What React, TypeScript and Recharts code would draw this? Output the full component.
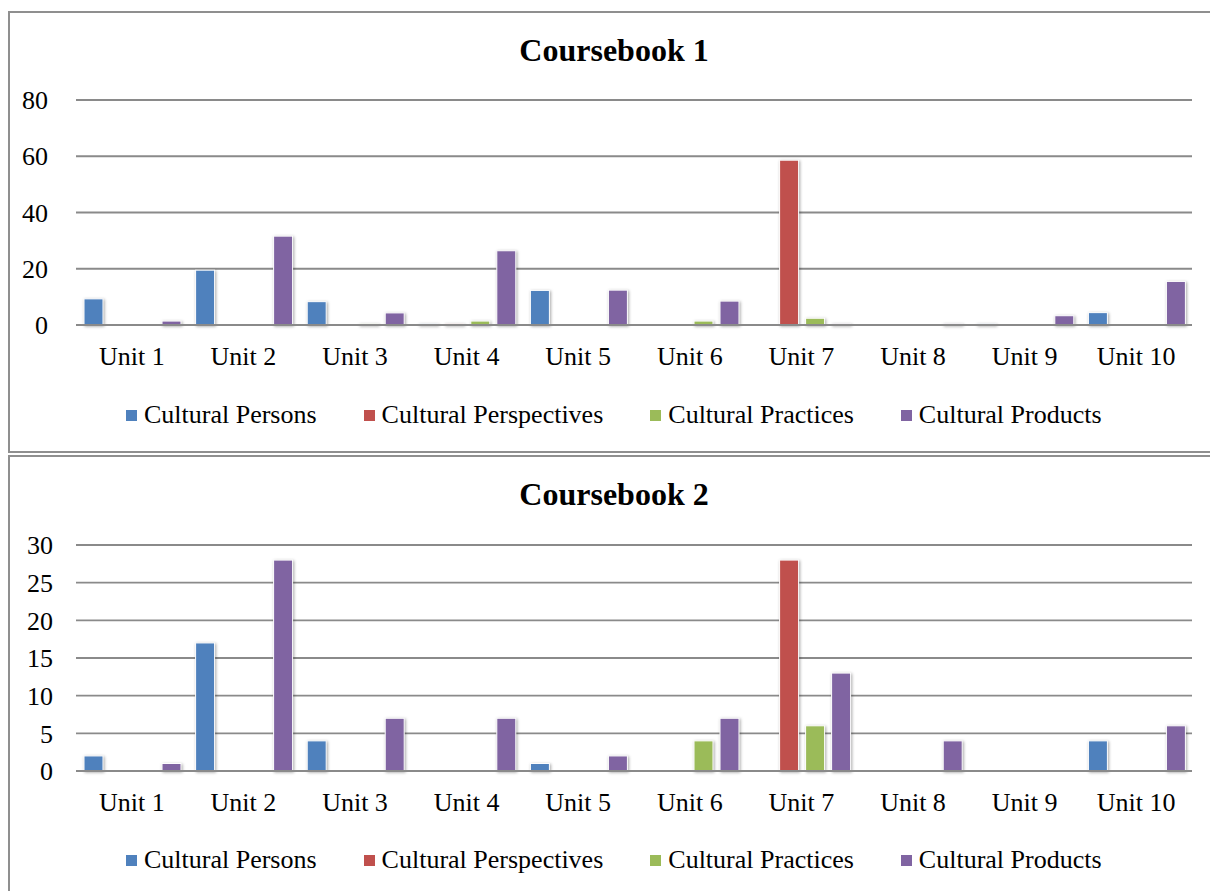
import React from 'react';
import { BarChart, Bar, XAxis, YAxis, CartesianGrid, Legend } from 'recharts';

const units = ['Unit 1', 'Unit 2', 'Unit 3', 'Unit 4', 'Unit 5', 'Unit 6', 'Unit 7', 'Unit 8', 'Unit 9', 'Unit 10'];
const seriesNames = ['Cultural Persons', 'Cultural Perspectives', 'Cultural Practices', 'Cultural Products'];
const seriesColors = ['#4F81BD', '#C0504D', '#9BBB59', '#8064A2'];

// Coursebook 1
const book1Persons = [9.3, 19.5, 8.3, 0.4, 12.3, 0, 0, 0, 0.4, 4.4];
const book1Perspectives = [0, 0, 0, 0.4, 0, 0, 58.6, 0, 0, 0];
const book1Practices = [0, 0, 0.4, 1.4, 0, 1.4, 2.4, 0, 0, 0];
const book1Products = [1.4, 31.6, 4.3, 26.4, 12.4, 8.5, 0.4, 0.4, 3.3, 15.5];
const book1Ticks = [0, 20, 40, 60, 80];

// Coursebook 2
const book2Persons = [2, 17, 4, 0, 1, 0, 0, 0, 0, 4];
const book2Perspectives = [0, 0, 0, 0, 0, 0, 28, 0, 0, 0];
const book2Practices = [0, 0, 0, 0, 0, 4, 6, 0, 0, 0];
const book2Products = [1, 28, 7, 7, 2, 7, 13, 4, 0, 6];
const book2Ticks = [0, 5, 10, 15, 20, 25, 30];

const FONT = '"Liberation Serif", "Times New Roman", serif';
const GRID = '#8a8a8a';

function buildRows(series: number[][]) {
  return units.map((unit, i) => {
    const row: Record<string, string | number> = { unit };
    seriesNames.forEach((name, s) => {
      row[name] = series[s][i];
    });
    return row;
  });
}

const ShadowBar = (props: any) => {
  const { x, y, width, height, fill } = props;
  if (!height || height <= 0) return <g />;
  return (
    <rect
      x={x}
      y={y}
      width={width}
      height={height}
      fill={fill}
      stroke="#ffffff"
      strokeWidth={1}
      style={{ filter: 'drop-shadow(1.5px 1.5px 1.5px rgba(0,0,0,0.35))' }}
    />
  );
};

const renderLegend = (props: any) => {
  const items = props.payload || [];
  return (
    <div style={{ display: 'flex', alignItems: 'center', height: 40, paddingLeft: 126, fontSize: 26, lineHeight: '26px', fontFamily: FONT, color: '#000' }}>
      {items.map((item: any) => (
        <div key={item.value} style={{ display: 'flex', alignItems: 'center', marginRight: 47 }}>
          <span style={{ display: 'inline-block', width: 11, height: 11, background: item.color, marginRight: 7 }} />
          <span>{item.value}</span>
        </div>
      ))}
    </div>
  );
};

interface CourseChartProps {
  rows: Record<string, string | number>[];
  ticks: number[];
  height: number;
  margin: { top: number; right: number; bottom: number; left: number };
  yTickMargin: number;
  legendTop: number;
}

function CourseChart({ rows, ticks, height, margin, yTickMargin, legendTop }: CourseChartProps) {
  return (
    <BarChart width={1210} height={height} data={rows} margin={margin} barGap={7} barCategoryGap={8}>
      <CartesianGrid vertical={false} stroke={GRID} strokeWidth={1.8} />
      <XAxis
        dataKey="unit"
        height={40}
        tickLine={false}
        tickSize={0}
        tickMargin={22}
        interval={0}
        axisLine={{ stroke: GRID, strokeWidth: 2 }}
        tick={{ fill: '#000', fontSize: 26 }}
      />
      <YAxis
        width={76}
        domain={[0, ticks[ticks.length - 1]]}
        ticks={ticks}
        axisLine={false}
        tickLine={false}
        tickSize={0}
        tickMargin={yTickMargin}
        tick={{ fill: '#000', fontSize: 26 }}
      />
      <Legend
        content={renderLegend}
        wrapperStyle={{ position: 'absolute', top: legendTop, left: 0, width: 1210, height: 40 }}
      />
      {seriesNames.map((name, i) => (
        <Bar key={name} dataKey={name} fill={seriesColors[i]} shape={ShadowBar} isAnimationActive={false} />
      ))}
    </BarChart>
  );
}

export default function App() {
  const rows1 = buildRows([book1Persons, book1Perspectives, book1Practices, book1Products]);
  const rows2 = buildRows([book2Persons, book2Perspectives, book2Practices, book2Products]);

  const titleStyle: React.CSSProperties = {
    position: 'absolute',
    left: 9,
    width: 1210,
    textAlign: 'center',
    fontSize: 32,
    lineHeight: '32px',
    fontWeight: 'bold',
    fontFamily: FONT,
    color: '#000',
  };

  return (
    <div style={{ position: 'fixed', left: 0, top: 0, width: 1210, height: 891, overflow: 'hidden', background: '#fff', fontFamily: FONT }}>
      <div style={{ position: 'absolute', left: 8, top: 11, width: 1240, height: 438, border: '2px solid #8f8f8f' }} />
      <div style={{ position: 'absolute', left: 8, top: 455, width: 1240, height: 600, border: '2px solid #8f8f8f' }} />

      <div style={{ ...titleStyle, top: 34 }}>Coursebook 1</div>
      <div style={{ position: 'absolute', left: 0, top: 0 }}>
        <CourseChart
          rows={rows1}
          ticks={book1Ticks}
          height={453}
          margin={{ top: 100, right: 18, bottom: 48, left: 0 }}
          yTickMargin={28}
          legendTop={395}
        />
      </div>

      <div style={{ ...titleStyle, top: 478 }}>Coursebook 2</div>
      <div style={{ position: 'absolute', left: 0, top: 455 }}>
        <CourseChart
          rows={rows2}
          ticks={book2Ticks}
          height={436}
          margin={{ top: 90, right: 18, bottom: 40, left: 0 }}
          yTickMargin={23}
          legendTop={385}
        />
      </div>
    </div>
  );
}
